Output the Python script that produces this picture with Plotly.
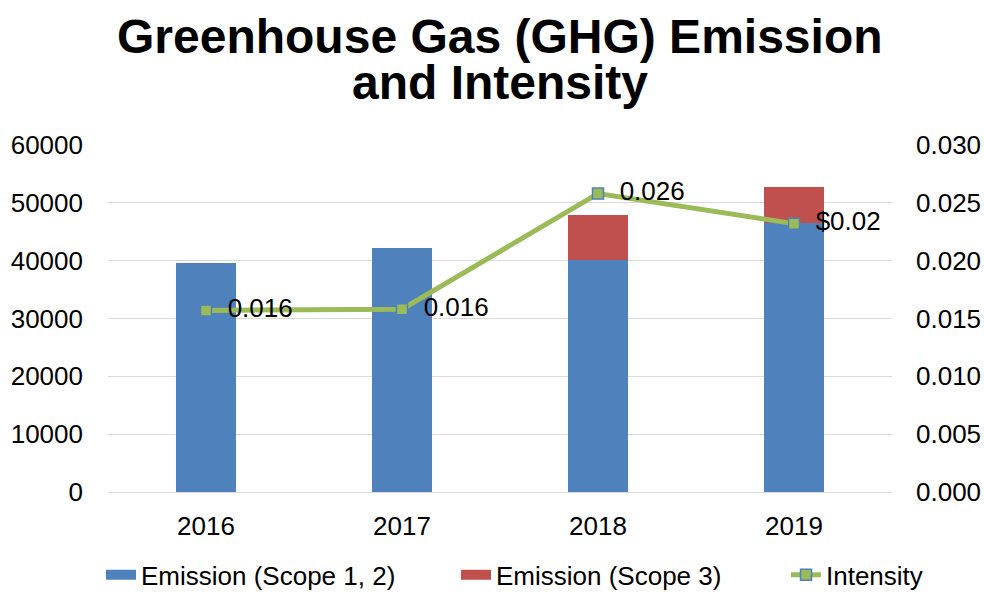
import plotly.graph_objects as go

years = ["2016", "2017", "2018", "2019"]
scope12 = [39600, 42200, 40100, 46500]
scope3 = [0, 0, 7800, 6200]
intensity = [0.0157, 0.0158, 0.0258, 0.0232]
intensity_labels = ["0.016", "0.016", "0.026", "$0.02"]
title_lines = ["Greenhouse Gas (GHG) Emission", "and Intensity"]
legend_names = ["Emission (Scope 1, 2)", "Emission (Scope 3)", "Intensity"]

FONT = "Liberation Sans, Arial, sans-serif"
BLUE = "#4F81BD"
RED = "#C0504D"
GREEN = "#9BBB59"
FS = 26

fig = go.Figure()
fig.add_trace(go.Bar(x=years, y=scope12, name=legend_names[0], showlegend=False,
                     marker=dict(color=BLUE, line=dict(width=0)), width=0.31))
fig.add_trace(go.Bar(x=years, y=scope3, name=legend_names[1], showlegend=False,
                     marker=dict(color=RED, line=dict(width=0)), width=0.31))
fig.add_trace(go.Scatter(x=years, y=intensity, name=legend_names[2], yaxis="y2",
                         mode="lines+markers", showlegend=False,
                         line=dict(color=GREEN, width=5),
                         marker=dict(symbol="square", size=11, color=GREEN,
                                     line=dict(color=BLUE, width=1.5))))
# data labels (transparent large markers to push the text right)
fig.add_trace(go.Scatter(x=years, y=intensity, yaxis="y2", mode="markers+text",
                         text=intensity_labels, textposition="middle right",
                         textfont=dict(size=FS, color="#000000", family=FONT),
                         marker=dict(size=33, color="rgba(0,0,0,0)"),
                         showlegend=False, hoverinfo="skip"))
# legend entries, each in its own legend for exact placement
fig.add_trace(go.Scatter(x=[None], y=[None], mode="lines", name=legend_names[0],
                         line=dict(color=BLUE, width=14), legend="legend"))
fig.add_trace(go.Scatter(x=[None], y=[None], mode="lines", name=legend_names[1],
                         line=dict(color=RED, width=14), legend="legend2"))
fig.add_trace(go.Scatter(x=[None], y=[None], mode="lines+markers", name=legend_names[2],
                         line=dict(color=GREEN, width=5), legend="legend3",
                         marker=dict(symbol="square", size=11, color=GREEN,
                                     line=dict(color=BLUE, width=1.5))))

def leg(xpx):
    return dict(orientation="h", x=xpx / 984, xanchor="left", xref="container",
                yref="container", y=0.029, yanchor="middle",
                font=dict(size=FS, family=FONT, color="#000000"),
                bgcolor="rgba(0,0,0,0)")

fig.update_layout(
    barmode="stack",
    width=984, height=592,
    paper_bgcolor="white", plot_bgcolor="white",
    font=dict(family=FONT, size=FS, color="#000000"),
    margin=dict(l=108, r=92, t=145, b=100),
    xaxis=dict(showgrid=False, showline=True, linecolor="#D9D9D9", linewidth=1,
               ticks="", tickfont=dict(size=FS), ticklabelstandoff=11, automargin=False),
    yaxis=dict(range=[0, 60000], dtick=10000, tickformat="d", showgrid=True,
               gridcolor="#D9D9D9", gridwidth=1, zeroline=False, showline=False,
               ticks="", tickfont=dict(size=FS), ticklabelstandoff=24, automargin=False),
    yaxis2=dict(range=[0, 0.030], dtick=0.005, tickformat=".3f", overlaying="y",
                side="right", showgrid=False, zeroline=False, showline=False,
                ticks="", tickfont=dict(size=FS), ticklabelstandoff=23, automargin=False),
    legend=leg(101),
    legend2=leg(456),
    legend3=leg(786),
    showlegend=True,
    annotations=[
        dict(text="<b>%s</b>" % title_lines[0], xref="paper", yref="paper",
             x=0.5, y=1.312, xanchor="center", yanchor="middle", showarrow=False,
             font=dict(size=48, family=FONT, color="#000000")),
        dict(text="<b>%s</b>" % title_lines[1], xref="paper", yref="paper",
             x=0.5, y=1.180, xanchor="center", yanchor="middle", showarrow=False,
             font=dict(size=48, family=FONT, color="#000000")),
    ],
)

fig.write_html("out.html", config={"displayModeBar": False},
               post_script="document.body.style.margin='0';")
